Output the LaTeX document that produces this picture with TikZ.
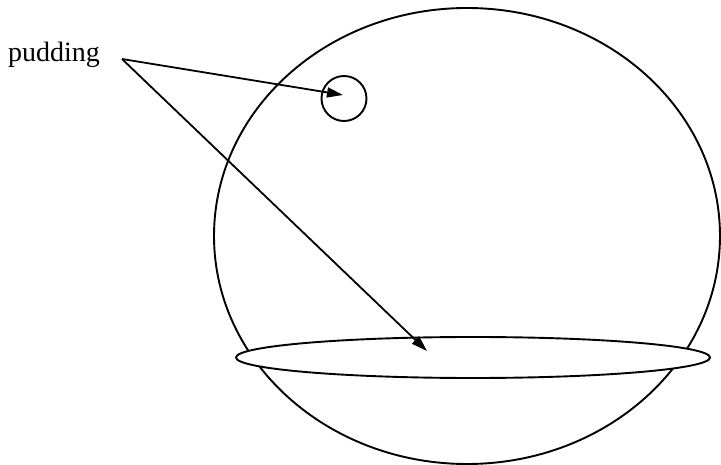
\documentclass[tikz,border=0pt]{standalone}
\usepackage{fontspec}
\setmainfont{Liberation Serif}
\usetikzlibrary{shapes.geometric,arrows.meta}
\begin{document}
\begin{tikzpicture}[x=1pt,y=-1pt,
  outline/.style={draw=black,line width=1.9pt,inner sep=0pt},
  ptr/.style={draw=black,line width=1.8pt,-{Triangle[length=16pt,width=10pt]}}]
\useasboundingbox (0,0) rectangle (721,465);
\node[outline,ellipse,minimum width=506pt,minimum height=456pt] (globe) at (467,236) {};
\node[outline,circle,minimum size=45pt] (small) at (344,98.5) {};
\node[outline,ellipse,fill=white,minimum width=474pt,minimum height=41pt] (disk) at (473,357.5) {};
\node[anchor=base west,inner sep=0pt,font=\fontsize{28pt}{32pt}\selectfont] (label) at (8,62) {pudding};
\coordinate (src) at (122,59);
\coordinate (tipA) at (343,95);
\coordinate (tipB) at (427,351);
\draw[ptr] (src) -- (tipA);
\draw[ptr] (src) -- (tipB);
\end{tikzpicture}
\end{document}
